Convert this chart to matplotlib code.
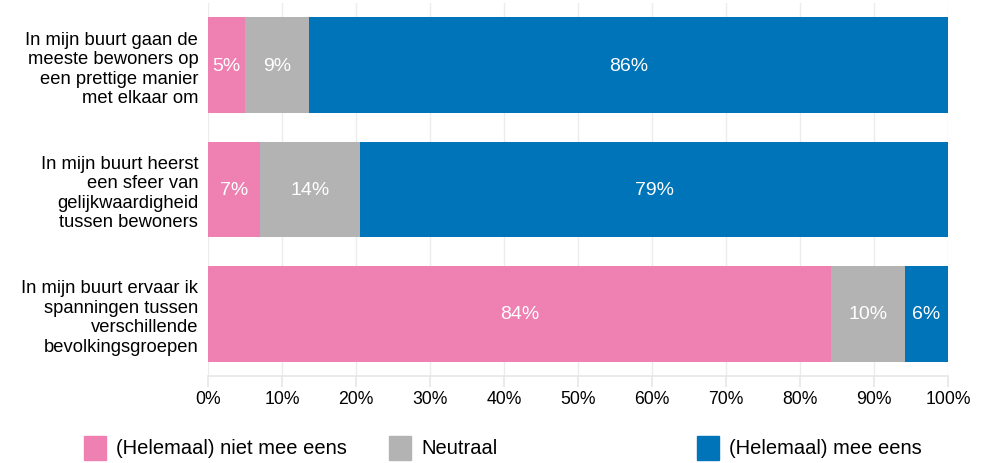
import matplotlib
matplotlib.use('Agg')
import matplotlib.pyplot as plt
from matplotlib.patches import Rectangle
import numpy as np

plt.rcParams['font.family'] = ['Liberation Sans', 'DejaVu Sans']

# Data
statements = [
    "In mijn buurt gaan de\nmeeste bewoners op\neen prettige manier\nmet elkaar om",
    "In mijn buurt heerst\neen sfeer van\ngelijkwaardigheid\ntussen bewoners",
    "In mijn buurt ervaar ik\nspanningen tussen\nverschillende\nbevolkingsgroepen",
]
series_names = ["(Helemaal) niet mee eens", "Neutraal", "(Helemaal) mee eens"]
niet_eens = [5.0, 7.0, 84.2]
neutraal = [8.6, 13.6, 10.0]
mee_eens = [86.4, 79.4, 5.8]
colors = ["#ee80b2", "#b3b3b3", "#0074b8"]
tick_values = list(range(0, 101, 10))

fig = plt.figure(figsize=(9.93, 4.64), dpi=100)
ax = fig.add_axes([208 / 993, 1 - 377 / 464, 740 / 993, 373 / 464])

y = np.arange(len(statements))
left = np.zeros(len(statements))
for vals, col in zip([niet_eens, neutraal, mee_eens], colors):
    vals = np.array(vals)
    ax.barh(y, vals, left=left, height=0.77, color=col, zorder=2)
    for yi, l, v in zip(y, left, vals):
        ax.text(l + v / 2, yi, f"{v:.0f}%", ha='center', va='center',
                color='white', fontsize=14, zorder=3)
    left = left + vals

ax.set_xlim(0, 100)
ax.set_ylim(len(statements) - 0.5, -0.5)
ax.set_yticks(y)
ax.set_yticklabels(statements, fontsize=13.2, linespacing=1.18)
ax.tick_params(axis='y', length=0, pad=7)
ax.set_xticks(tick_values)
ax.set_xticklabels([f"{t}%" for t in tick_values], fontsize=12.7)
ax.tick_params(axis='x', length=8, color='#e6e6e6', width=1.2, pad=2)
ax.grid(axis='x', color='#ececec', linewidth=1, zorder=0)
for s in ['top', 'right', 'left']:
    ax.spines[s].set_visible(False)
ax.spines['bottom'].set_color('#e6e6e6')
ax.spines['bottom'].set_linewidth(1.2)

# Legend drawn manually (uneven spacing as in original)
leg_x = [84, 389, 697]
for xp, name, col in zip(leg_x, series_names, colors):
    fig.patches.append(Rectangle((xp / 993, 1 - 461 / 464), 22 / 993, 24 / 464,
                                 transform=fig.transFigure, color=col))
    fig.text((xp + 32) / 993, 1 - 449 / 464, name, fontsize=14.5, va='center')

fig.savefig("out.png", dpi=100)
